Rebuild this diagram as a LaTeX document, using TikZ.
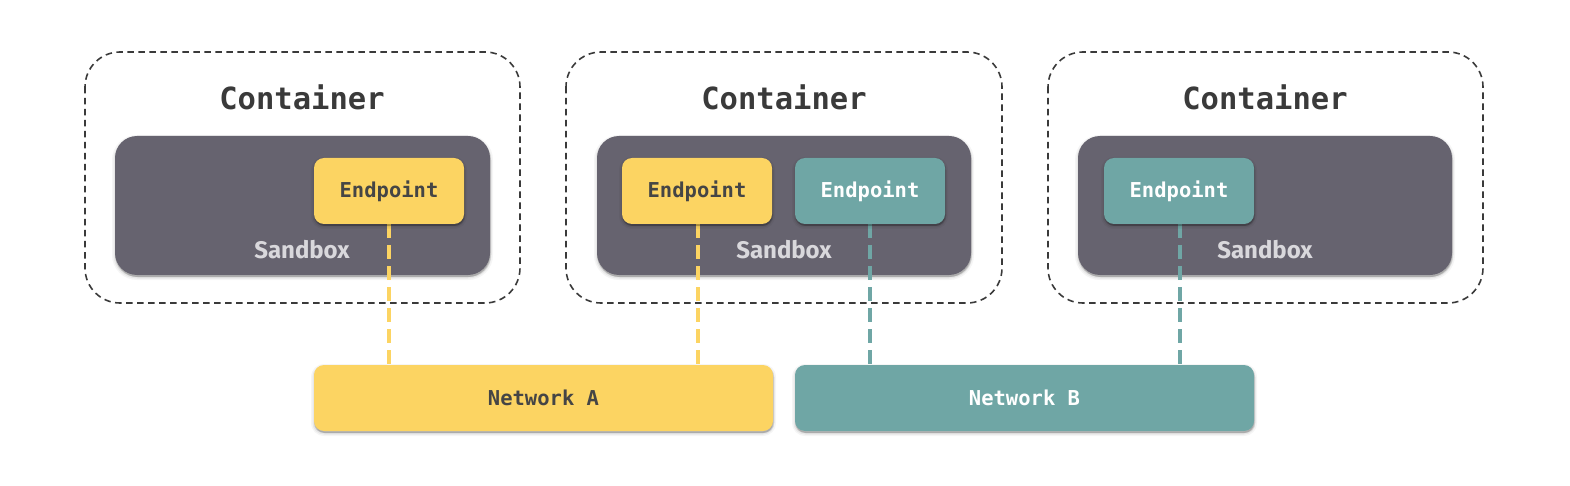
\documentclass[tikz,border=0pt]{standalone}
\usepackage{fontspec}
\setmonofont{DejaVu Sans Mono}
\newfontfamily\labelfont{Fira Sans}
\usetikzlibrary{shadows}
\definecolor{sandboxc}{HTML}{66636F}
\definecolor{yellowc}{HTML}{FCD462}
\definecolor{tealc}{HTML}{6FA6A5}
\definecolor{darktext}{HTML}{454545}
\definecolor{graytext}{HTML}{D9D8DC}
\definecolor{dashc}{HTML}{3A3A3A}
\tikzset{
  x=1pt,y=-1pt,
  softshadow/.style={
    general shadow={shadow xshift=0pt,shadow yshift=-2pt,fill=black,opacity=0.06,draw=black,line width=6pt,draw opacity=0.04},
    general shadow={shadow xshift=0pt,shadow yshift=-2pt,fill=black,opacity=0.10,draw=black,line width=3pt,draw opacity=0.06},
    general shadow={shadow xshift=1pt,shadow yshift=-2pt,fill=black,opacity=0.12}},
  containerbox/.style={draw=dashc,line width=1.6pt,dash pattern=on 6.5pt off 4.5pt,rounded corners=35pt},
  sandboxbox/.style={fill=sandboxc,rounded corners=22pt,softshadow},
  epbox/.style={rounded corners=10pt,minimum width=150pt,minimum height=66pt,inner sep=0pt,
     font=\ttfamily\bfseries\fontsize{20.5}{24}\selectfont,softshadow},
  epyellow/.style={epbox,fill=yellowc,text=darktext},
  epteal/.style={epbox,fill=tealc,text=white},
  netbox/.style={rounded corners=10pt,minimum width=459pt,minimum height=66pt,inner sep=0pt,
     font=\ttfamily\bfseries\fontsize{20.5}{24}\selectfont,softshadow},
  ctitle/.style={font=\ttfamily\bfseries\fontsize{30.5}{34}\selectfont,text=dashc},
  sblabel/.style={font=\labelfont\bfseries\fontsize{24}{28}\selectfont,text=graytext},
  link/.style={line width=4pt,dash pattern=on 14pt off 7pt},
}
\begin{document}
\begin{tikzpicture}
\useasboundingbox (0,0) rectangle (1570,486);
% containers
\draw[containerbox] (85,52) rectangle (520,303);
\draw[containerbox] (566,52) rectangle (1002,303);
\draw[containerbox] (1048,52) rectangle (1483,303);
\node[ctitle] (t1) at (302,97) {Container};
\node[ctitle] (t2) at (784,97) {Container};
\node[ctitle] (t3) at (1265,97) {Container};
% sandboxes
\path[sandboxbox] (115,136) rectangle (490,275);
\path[sandboxbox] (597,136) rectangle (971,275);
\path[sandboxbox] (1078,136) rectangle (1452,275);
\node[sblabel] (s1) at (302,250) {Sandbox};
\node[sblabel] (s2) at (784,250) {Sandbox};
\node[sblabel] (s3) at (1265,250) {Sandbox};
% networks
\node[netbox,fill=yellowc,text=darktext] (na) at (543.5,398) {Network A};
\node[netbox,fill=tealc,text=white] (nb) at (1024.5,398) {Network B};
% links (drawn before endpoints)
\coordinate (e1b) at (389,224);
\coordinate (e2b) at (698,224);
\coordinate (e3b) at (870,224);
\coordinate (e4b) at (1180,224);
\draw[link,draw=yellowc] (e1b) -- (e1b |- na.north);
\draw[link,draw=yellowc] (e2b) -- (e2b |- na.north);
\draw[link,draw=tealc] (e3b) -- (e3b |- nb.north);
\draw[link,draw=tealc] (e4b) -- (e4b |- nb.north);
% endpoints
\node[epyellow] (e1) at (389,191) {Endpoint};
\node[epyellow] (e2) at (697,191) {Endpoint};
\node[epteal] (e3) at (870,191) {Endpoint};
\node[epteal] (e4) at (1179,191) {Endpoint};
\end{tikzpicture}
\end{document}
